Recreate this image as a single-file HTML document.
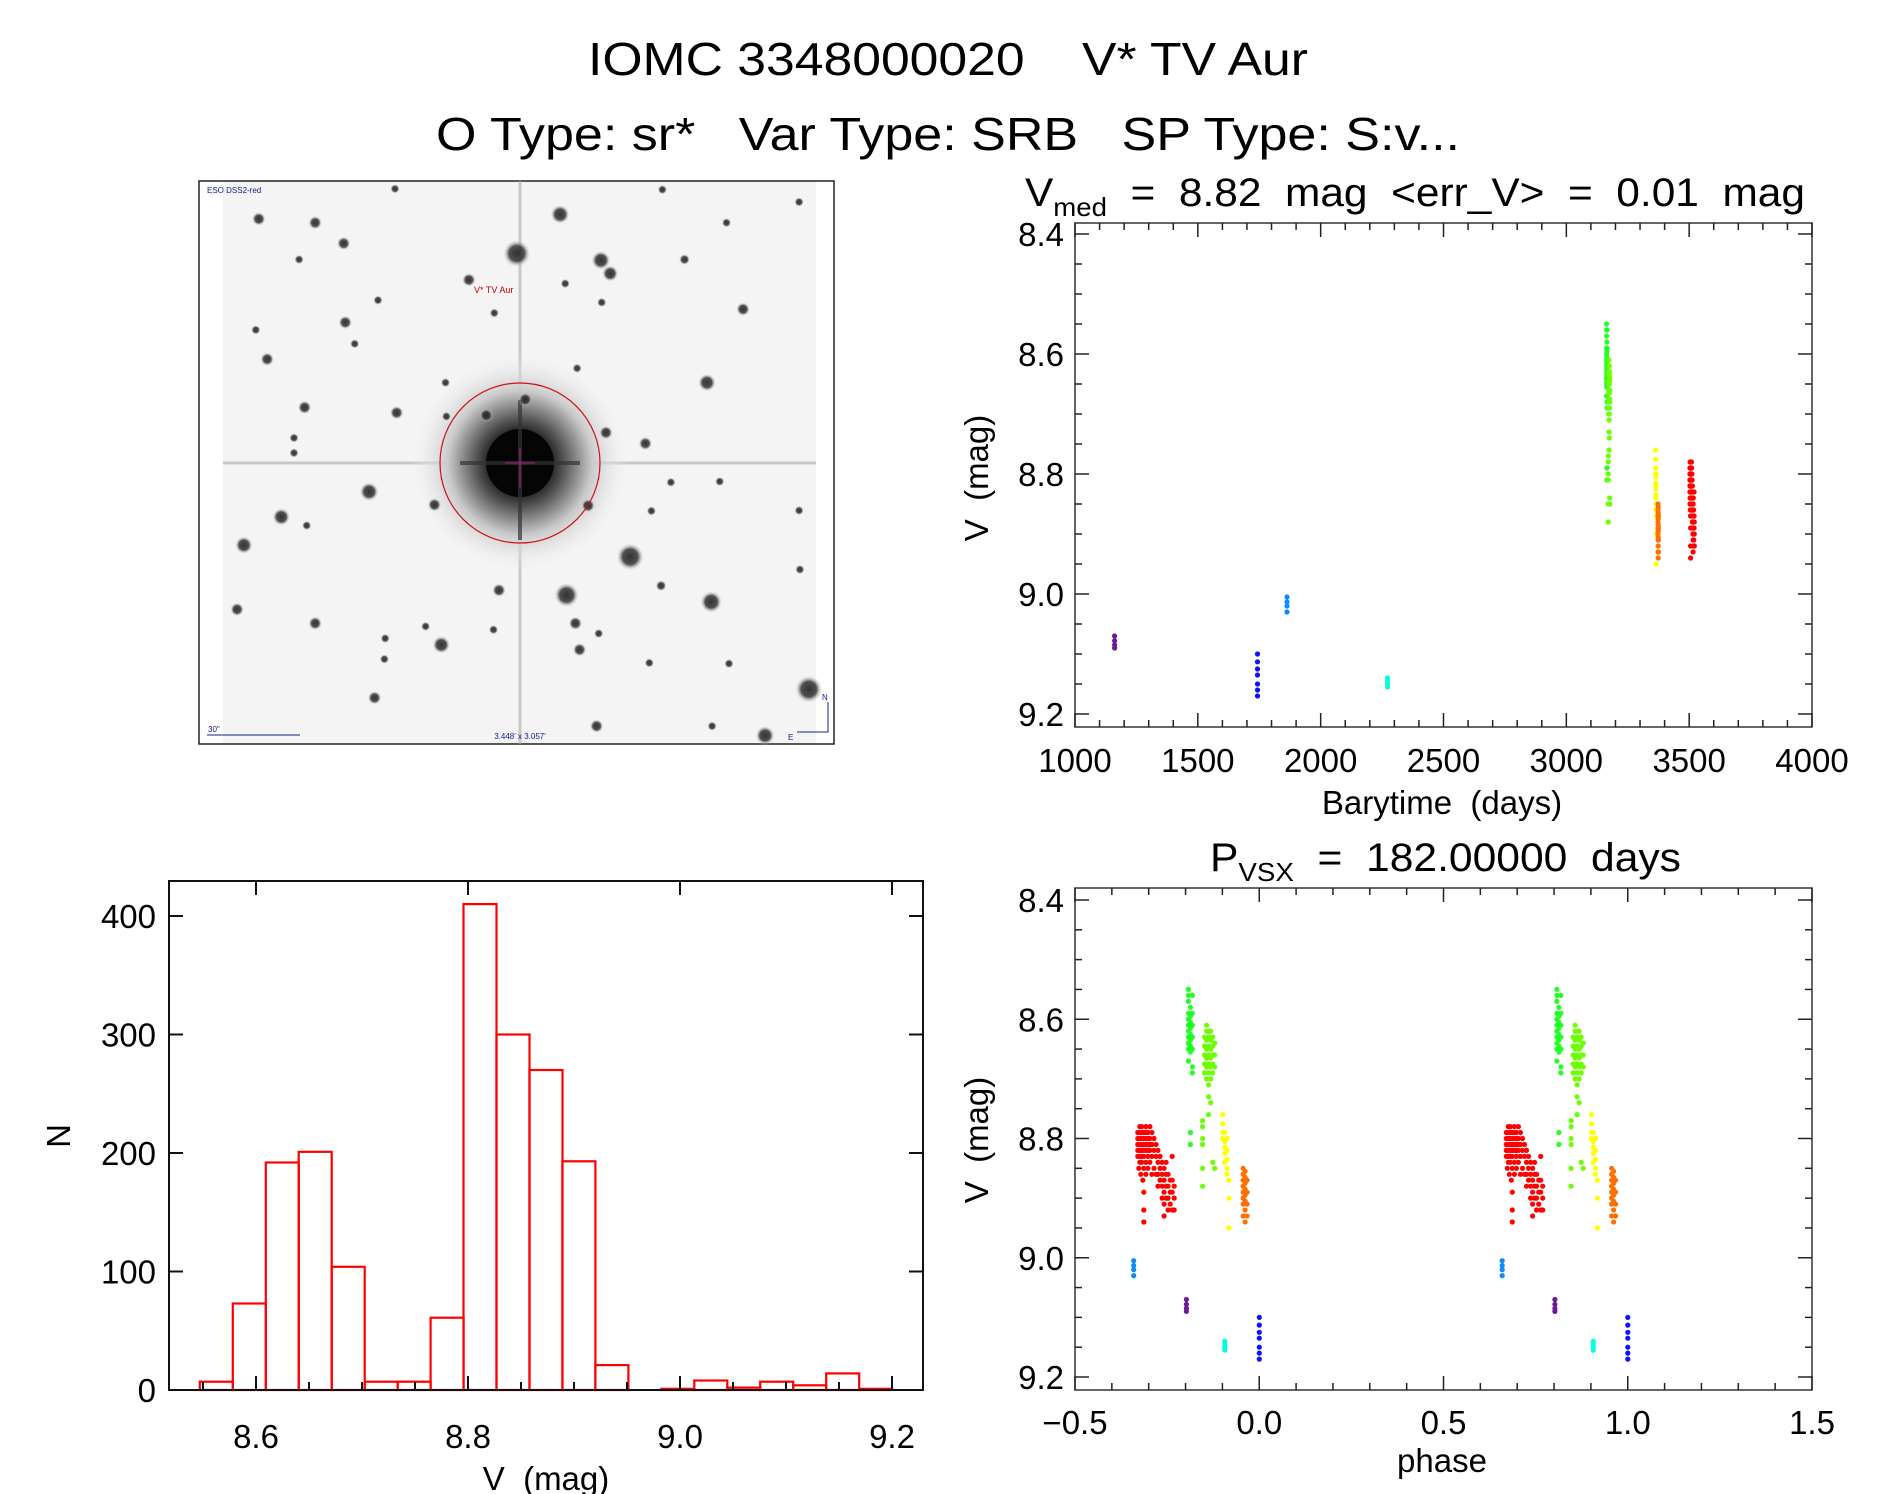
<!DOCTYPE html>
<html><head><meta charset="utf-8"><style>
html,body{margin:0;padding:0;background:#fff;}
svg{display:block;font-family:"Liberation Sans",sans-serif;}
text{white-space:pre;}
</style></head><body>
<svg id="fig" width="1889" height="1494" viewBox="0 0 1889 1494" xmlns="http://www.w3.org/2000/svg">
<defs>
<radialGradient id="starg"><stop offset="0" stop-color="#111"/><stop offset="0.55" stop-color="#333"/><stop offset="1" stop-color="#f4f4f4" stop-opacity="0"/></radialGradient>
<radialGradient id="halo"><stop offset="0" stop-color="#000"/><stop offset="0.22" stop-color="#080808"/><stop offset="0.4" stop-color="#555"/><stop offset="0.65" stop-color="#c8c8c8"/><stop offset="1" stop-color="#f4f4f4" stop-opacity="0"/></radialGradient>
</defs>
<text xml:space="preserve" x="948" y="75" font-size="46" text-anchor="middle" textLength="720" lengthAdjust="spacingAndGlyphs">IOMC 3348000020    V* TV Aur</text>
<text xml:space="preserve" x="948" y="150" font-size="46" text-anchor="middle" textLength="1024" lengthAdjust="spacingAndGlyphs">O Type: sr*   Var Type: SRB   SP Type: S:v...</text>
<g id="img"></g>
<g id="lc"></g>
<g id="ph"></g>
<g id="hist"></g>
</svg>
<script>
// ---- data ----
const period = 182.0;
const epoch = 1743;
const purplePts = [[1161,9.07],[1161,9.078],[1161,9.085],[1161,9.09]];
const bluePts = [[1743,9.10],[1743,9.113],[1743,9.125],[1743,9.135],[1743,9.15],[1743,9.16],[1743,9.17]];
const ltbluePts = [[1863,9.005],[1863,9.013],[1863,9.02],[1863,9.03]];
const cyanPts = [[2272,9.14],[2272,9.145],[2272,9.15],[2272,9.155]];
const greenAPts = [[3164,8.55],[3164,8.56],[3164,8.57],[3164,8.59],[3164,8.60],[3164,8.61],[3164,8.62],[3164,8.63],[3164,8.64],[3164,8.65],[3164,8.67],[3165,8.58],[3165,8.595],[3165,8.605],[3165,8.615],[3165,8.625],[3165,8.635],[3165,8.645],[3165,8.655],[3166,8.56],[3166,8.59],[3166,8.61],[3166,8.63],[3166,8.65],[3166,8.68],[3166,8.69],[3165,8.79],[3165,8.81]];
const greenBPts = [[3172,8.63],[3172,8.645],[3172,8.66],[3172,8.675],[3172,8.69],[3173,8.61],[3173,8.62],[3173,8.635],[3173,8.65],[3173,8.665],[3173,8.68],[3173,8.70],[3174,8.62],[3174,8.63],[3174,8.645],[3174,8.66],[3174,8.675],[3174,8.69],[3175,8.62],[3175,8.635],[3175,8.65],[3175,8.665],[3175,8.68],[3175,8.70],[3176,8.63],[3176,8.645],[3176,8.66],[3176,8.675],[3176,8.69],[3177,8.64],[3177,8.66],[3177,8.68],[3171,8.77],[3171,8.78],[3171,8.80],[3171,8.81],[3171,8.85],[3171,8.88],[3174,8.71],[3174,8.73],[3174,8.76],[3175,8.74],[3176,8.84],[3177,8.85]];
const yellowPts = [[3363,8.76],[3363,8.775],[3363,8.79],[3363,8.80],[3364,8.79],[3364,8.805],[3364,8.815],[3364,8.825],[3364,8.84],[3365,8.80],[3365,8.82],[3365,8.835],[3365,8.85],[3365,8.86],[3366,8.87],[3366,8.90],[3366,8.95]];
const orangePts = [[3373,8.85],[3373,8.86],[3373,8.87],[3373,8.88],[3373,8.89],[3373,8.90],[3373,8.91],[3373,8.93],[3374,8.855],[3374,8.865],[3374,8.875],[3374,8.885],[3374,8.895],[3374,8.905],[3374,8.92],[3374,8.94],[3375,8.87],[3375,8.89],[3375,8.91],[3375,8.93]];
const redPts = [[3503,8.79],[3503,8.80],[3503,8.81],[3503,8.82],[3503,8.83],[3503.5,8.85],[3504,8.78],[3504,8.79],[3504,8.80],[3504,8.81],[3504,8.82],[3504,8.83],[3504,8.84],[3504.5,8.86],[3505,8.78],[3505,8.79],[3505,8.80],[3505,8.81],[3505,8.82],[3505,8.83],[3505,8.84],[3505.5,8.87],[3506,8.79],[3506,8.80],[3506,8.81],[3506,8.82],[3506,8.83],[3506,8.85],[3506,8.89],[3506,8.92],[3506,8.94],[3507,8.78],[3507,8.79],[3507,8.80],[3507,8.81],[3507,8.82],[3507,8.84],[3507,8.86],[3508,8.79],[3508,8.80],[3508,8.81],[3508,8.82],[3508,8.83],[3508,8.85],[3509,8.78],[3509,8.80],[3509,8.81],[3509,8.82],[3509,8.84],[3510,8.79],[3510,8.81],[3510,8.83],[3510,8.86],[3511,8.80],[3511,8.82],[3511,8.85],[3512,8.81],[3512,8.83],[3512,8.86],[3513,8.82],[3513,8.84],[3513,8.86],[3513,8.88],[3514,8.83],[3514,8.85],[3514,8.87],[3515,8.84],[3515,8.86],[3515,8.88],[3515,8.90],[3516,8.85],[3516,8.87],[3516,8.89],[3516,8.91],[3516,8.93],[3517,8.84],[3517,8.86],[3517,8.88],[3517,8.90],[3518,8.86],[3518,8.88],[3518,8.90],[3518,8.92],[3519,8.87],[3519,8.89],[3519,8.91],[3520,8.83],[3520,8.87],[3520,8.89],[3520,8.92],[3521,8.88],[3521,8.90],[3521,8.92]];
const seriesNames = ["purple","blue","ltblue","cyan","green-a","green-b","yellow","orange","red"];
const seriesColors = ["#6a1b9a","#1010ff","#0a8cff","#00ffe0","#22ff22","#6cff00","#ffff00","#ff7000","#ff0000"];
const seriesData = [purplePts,bluePts,ltbluePts,cyanPts,greenAPts,greenBPts,yellowPts,orangePts,redPts];
// histogram
const histStart = 8.547;
const histWidth = 0.0311;
const histCounts = [7,73,192,201,104,7,7,61,410,300,270,193,21,0,1,8,2,7,4,14,1];
// ticks
const lcXTicks = [1000,1500,2000,2500,3000,3500,4000];
const magTicks = ["8.4","8.6","8.8","9.0","9.2"];
const phXTicks = ["\u22120.5","0.0","0.5","1.0","1.5"];
const histXTicks = ["8.6","8.8","9.0","9.2"];
const histYTicks = [0,100,200,300,400];

const NS="http://www.w3.org/2000/svg";
function mk(parent,tag,attrs,text){const e=document.createElementNS(NS,tag);for(const k in attrs)e.setAttribute(k,attrs[k]);if(text!==undefined)e.textContent=text;parent.appendChild(e);return e;}
function ln(g,x1,y1,x2,y2,sw,col){return mk(g,'line',{x1,y1,x2,y2,stroke:col||'#222','stroke-width':sw||1.5});}
const PR=2.6;

// ---------- light curve ----------
(function(){
 const g=document.getElementById('lc');
 const L=1075,R=1812,T=223,B=727;
 const xs=t=>L+(t-1000)/3000*(R-L);
 const ys=v=>234+(v-8.4)/0.8*480;
 const fr=mk(g,'rect',{x:L,y:T,width:R-L,height:B-T,fill:'none',stroke:'#333','stroke-width':1.5});
 
 for(let t=1000;t<=4000;t+=100){const maj=t%500===0;const h=maj?14:7;const x=xs(t);ln(g,x,B,x,B-h);ln(g,x,T,x,T+h);}
 for(let v=8.4;v<=9.2001;v+=0.05){const maj=Math.abs(v*5-Math.round(v*5))<1e-6;const h=maj?14:7;const y=ys(v);ln(g,L,y,L+h,y);ln(g,R,y,R-h,y);}
 lcXTicks.forEach(t=>{const e=mk(g,'text',{x:xs(t),y:772,'font-size':33,'text-anchor':'middle'},String(t));});
 magTicks.forEach(s=>{const e=mk(g,'text',{x:1064,y:ys(parseFloat(s))+12,'font-size':33,'text-anchor':'end'},s);});
 let e=mk(g,'text',{x:1442,y:814,'font-size':33,'text-anchor':'middle'},'Barytime  (days)');
 e=mk(g,'text',{x:0,y:0,'font-size':33,'text-anchor':'middle',transform:'translate(988,478) rotate(-90)'},'V  (mag)');
 e=mk(g,'text',{x:1025,y:206,'font-size':40,textLength:780,lengthAdjust:'spacingAndGlyphs'});
 
 e.innerHTML='V<tspan font-size="26" dy="10">med</tspan><tspan dy="-10">  =  8.82  mag  &lt;err_V&gt;  =  0.01  mag</tspan>';
 seriesData.forEach((pts,i)=>{const sg=mk(g,'g',{fill:seriesColors[i]});
  pts.forEach(p=>{const c=mk(sg,'circle',{cx:xs(p[0]).toFixed(1),cy:ys(p[1]).toFixed(1),r:PR});});});
})();

// ---------- phase ----------
(function(){
 const g=document.getElementById('ph');
 const L=1075,R=1812,T=888,B=1390;
 const xs=p=>L+(p+0.5)/2*(R-L);
 const ys=v=>900+(v-8.4)/0.8*477;
 const fr=mk(g,'rect',{x:L,y:T,width:R-L,height:B-T,fill:'none',stroke:'#333','stroke-width':1.5});
 
 for(let k=-5;k<=15;k++){const maj=k%5===0;const h=maj?14:7;const x=xs(k/10);ln(g,x,B,x,B-h);ln(g,x,T,x,T+h);}
 for(let v=8.4;v<=9.2001;v+=0.05){const maj=Math.abs(v*5-Math.round(v*5))<1e-6;const h=maj?14:7;const y=ys(v);ln(g,L,y,L+h,y);ln(g,R,y,R-h,y);}
 phXTicks.forEach((s,i)=>{const e=mk(g,'text',{x:xs(-0.5+i*0.5),y:1434,'font-size':33,'text-anchor':'middle'},s);});
 magTicks.forEach(s=>{const e=mk(g,'text',{x:1064,y:ys(parseFloat(s))+12,'font-size':33,'text-anchor':'end'},s);});
 let e=mk(g,'text',{x:1442,y:1472,'font-size':33,'text-anchor':'middle'},'phase');
 e=mk(g,'text',{x:0,y:0,'font-size':33,'text-anchor':'middle',transform:'translate(988,1140) rotate(-90)'},'V  (mag)');
 e=mk(g,'text',{x:1210,y:871,'font-size':40,textLength:471,lengthAdjust:'spacingAndGlyphs'});
 
 e.innerHTML='P<tspan font-size="26" dy="10">VSX</tspan><tspan dy="-10">  =  182.00000  days</tspan>';
 seriesData.forEach((pts,i)=>{const sg=mk(g,'g',{fill:seriesColors[i]});
  pts.forEach(p=>{let ph=(p[0]-epoch)/period;ph=ph-Math.floor(ph);if(ph<0.5)ph+=1;
   [ph,ph-1].forEach(q=>{if(q<-0.5||q>1.5)return;const c=mk(sg,'circle',{cx:xs(q).toFixed(1),cy:ys(p[1]).toFixed(1),r:PR});});});});
})();

// ---------- histogram ----------
(function(){
 const g=document.getElementById('hist');
 const L=169,R=923,T=881,B=1390;
 const xs=v=>256+(v-8.6)/0.6*636;
 const ys=n=>B-n*1.185;
 histCounts.forEach((n,i)=>{const x0=xs(histStart+i*histWidth),x1=xs(histStart+(i+1)*histWidth);
  const r=mk(g,'rect',{x:x0.toFixed(1),y:ys(n).toFixed(1),width:(x1-x0).toFixed(1),height:(B-ys(n)).toFixed(1),fill:'none',stroke:'#ff0000','stroke-width':2.2});
  });
 const fr=mk(g,'rect',{x:L,y:T,width:R-L,height:B-T,fill:'none',stroke:'#111','stroke-width':2});
 
 for(let k=0;k<=13;k++){const v=8.55+k*0.05;const x=xs(v);const maj=k%4===1;ln(g,x,B,x,B-(maj?14:8),2,'#111');if(maj)ln(g,x,T,x,T+14,2,'#111');}
 histYTicks.forEach(n=>{ln(g,L,ys(n),L+14,ys(n),2,'#111');ln(g,R,ys(n),R-14,ys(n),2,'#111');
  const e=mk(g,'text',{x:156,y:ys(n)+12,'font-size':33,'text-anchor':'end'},String(n));});
 histXTicks.forEach(s=>{const e=mk(g,'text',{x:xs(parseFloat(s)),y:1448,'font-size':33,'text-anchor':'middle'},s);});
 let e=mk(g,'text',{x:546,y:1490,'font-size':33,'text-anchor':'middle'},'V  (mag)');
 e=mk(g,'text',{x:0,y:0,'font-size':33,'text-anchor':'middle',transform:'translate(70,1136) rotate(-90)'},'N');
})();

// ---------- sky image (decorative) ----------
(function(){
 const g=document.getElementById('img');
 mk(g,'rect',{x:223,y:181,width:593,height:563,fill:'#f4f4f4'});
 const fr=mk(g,'rect',{x:199,y:181,width:635,height:563,fill:'none',stroke:'#222','stroke-width':1.5});
 
 mk(g,'rect',{x:201,y:183,width:22,height:559,fill:'#fff'});
 mk(g,'rect',{x:816,y:183,width:16,height:559,fill:'#fff'});
 mk(g,'line',{x1:223,y1:463,x2:816,y2:463,stroke:'#aaa','stroke-width':3,opacity:0.6});
 mk(g,'line',{x1:520,y1:181,x2:520,y2:744,stroke:'#aaa','stroke-width':3,opacity:0.6});
 mk(g,'circle',{cx:520,cy:463,r:110,fill:'url(#halo)'});
 mk(g,'ellipse',{cx:520,cy:463,rx:34,ry:34,fill:'#050505'});
 mk(g,'line',{x1:460,y1:463,x2:580,y2:463,stroke:'#333','stroke-width':4,opacity:0.7});
 mk(g,'line',{x1:520,y1:400,x2:520,y2:540,stroke:'#333','stroke-width':4,opacity:0.7});
 const stars=[[872,118,7],[770,222,10],[968,240,7],[990,275,6],[162,130,5],[295,140,5],[362,195,5],[257,238,3.5],[657,292,5],[884,302,3.5],[1165,238,4],[1303,370,5],[970,352,3.5],[366,405,5],[443,346,3.5],[717,380,3.5],[155,425,3.5],[388,462,3.5],[182,503,5],[1218,565,6.5],[602,565,3.5],[912,527,3.5],[270,631,5],[487,645,5],[604,655,3.5],[698,652,5],[790,610,5],[980,698,5],[1073,727,5],[245,712,3.5],[245,752,3.5],[422,855,7],[576,890,5],[938,892,5],[215,922,6.5],[275,945,3.5],[127,997,6.5],[1248,828,3.5],[1133,830,3.5],[1087,906,3.5],[1037,1028,10],[1110,1105,4],[728,1117,5],[887,1130,9],[1228,1148,8],[111,1168,5],[295,1205,5],[908,1205,5],[555,1213,3.5],[460,1245,3.5],[592,1262,6.5],[918,1275,5],[458,1300,3.5],[435,1403,5],[1458,1380,10],[1355,1503,7],[958,1478,5],[1435,85,3.5],[1264,140,3.5],[1113,52,3.5],[483,50,3.5],[1230,1478,3.5],[1270,1312,3.5],[1082,1310,3.5],[715,1222,3.5],[963,1232,3.5],[1435,905,3.5],[1437,1062,3.5]];
 stars.forEach(s=>{const c=mk(g,'circle',{cx:(s[0]/2.356+190).toFixed(1),cy:(s[1]/2.658+170).toFixed(1),r:s[2]*1.4,fill:'url(#starg)',opacity:0.85});});
 const ring=mk(g,'circle',{cx:520,cy:463,r:80,fill:'none',stroke:'#d01010','stroke-width':1.2});
 
 mk(g,'line',{x1:505,y1:463,x2:535,y2:463,stroke:'#a0208a','stroke-width':1});
 mk(g,'line',{x1:520,y1:448,x2:520,y2:488,stroke:'#a0208a','stroke-width':1});
 let e=mk(g,'text',{x:474,y:293,'font-size':9,fill:'#c00000'},'V* TV Aur');
 e=mk(g,'text',{x:207,y:193,'font-size':8,fill:'#102090'},'ESO DSS2-red');
 e=mk(g,'text',{x:208,y:732,'font-size':8,fill:'#102090'},'30"');
 mk(g,'line',{x1:207,y1:735,x2:300,y2:735,stroke:'#102090','stroke-width':1});
 e=mk(g,'text',{x:520,y:739,'font-size':8,fill:'#102090','text-anchor':'middle'},"3.448' x 3.057'");
 mk(g,'polyline',{points:'828,702 828,732 797,732',fill:'none',stroke:'#102090','stroke-width':1});
 mk(g,'text',{x:822,y:700,'font-size':8,fill:'#102090'},'N');
 mk(g,'text',{x:788,y:740,'font-size':8,fill:'#102090'},'E');
})();
</script>
</body></html>
